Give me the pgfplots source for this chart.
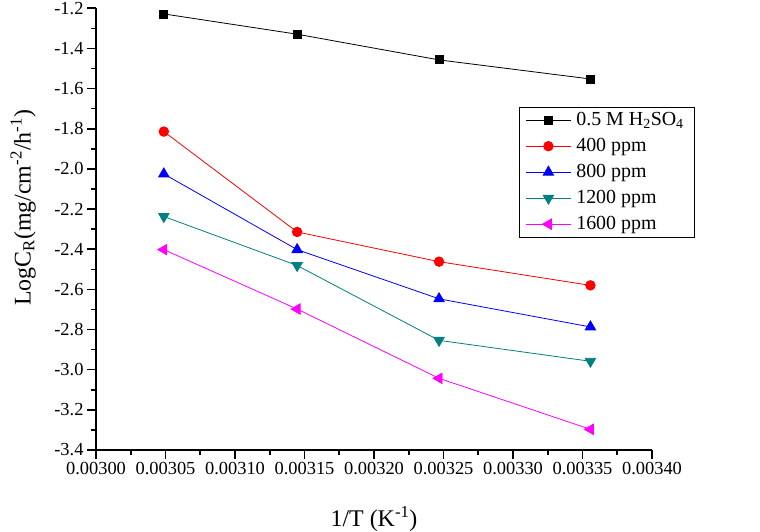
\documentclass[border=0pt]{standalone}
\usepackage{fontspec}
\setmainfont{Liberation Serif}
\usepackage{pgfplots}
\pgfplotsset{compat=1.18}
\definecolor{cteal}{RGB}{0,128,128}
\definecolor{cred}{RGB}{255,0,0}
\definecolor{cblue}{RGB}{0,0,255}
\definecolor{cmag}{RGB}{255,0,255}
\begin{document}
\begin{tikzpicture}
\path[use as bounding box] (-96bp,-82bp) rectangle (664bp,450bp);
\begin{axis}[
  at={(0,0)}, anchor=south west,
  scale only axis, width=556bp, height=441.7bp,
  axis x line*=bottom, axis y line*=left,
  axis line style={-, line width=1.6bp},
  xmin=0.003, xmax=0.0034, ymin=-3.4, ymax=-1.2,
  xtick={0.0030,0.00305,...,0.00341},
  ytick={-3.4,-3.2,...,-1.19},
  minor tick num=1,
  tick align=outside,
  major tick length=9bp, minor tick length=5bp,
  every tick/.style={line width=1.6bp, black},
  scaled x ticks=false,
  xticklabel style={/pgf/number format/.cd, fixed, fixed zerofill, precision=5, assume math mode=true},
  yticklabel style={/pgf/number format/.cd, fixed, fixed zerofill, precision=1, assume math mode=true},
  tick label style={font=\fontsize{18.5}{20}\selectfont},
  xlabel={1/T (K\textsuperscript{-1})},
  ylabel={LogC\textsubscript{R}(mg/cm\textsuperscript{-2}/h\textsuperscript{-1})},
  xlabel style={font=\fontsize{24}{26}\selectfont, at={(axis description cs:0.5,-0.156)}, anchor=center},
  ylabel style={font=\fontsize{24}{26}\selectfont, at={(axis description cs:-0.131,0.548)}, anchor=center},
  clip=false,
  legend cell align=left,
  legend style={at={(rel axis cs:0.761,0.777)}, anchor=north west, draw=black, line width=0.8bp,
    font=\fontsize{20}{24}\selectfont, inner xsep=6bp, inner ysep=0bp, row sep=0bp,
    nodes={inner xsep=5bp, inner ysep=2bp, text height=16.5bp, text depth=5.5bp}},
  legend image code/.code={\draw[mark repeat=2,mark phase=2,#1] plot coordinates {(0bp,0bp) (22.5bp,0bp) (45bp,0bp)};},
  every axis plot/.append style={line width=0.8bp},
]
\addplot[black, mark=square*, mark size=4bp] coordinates {
(0.0030488,-1.228) (0.0031447,-1.329) (0.0032468,-1.457) (0.0033557,-1.552)};
\addlegendentry{0.5 M H\textsubscript{2}SO\textsubscript{4}\hspace{12bp}}
\addplot[cred, mark=*, mark size=4.8bp] coordinates {
(0.0030488,-1.814) (0.0031447,-2.314) (0.0032468,-2.462) (0.0033557,-2.580)};
\addlegendentry{400 ppm}
\addplot[cblue, mark=triangle*, mark size=6bp] coordinates {
(0.0030488,-2.025) (0.0031447,-2.402) (0.0032468,-2.647) (0.0033557,-2.787)};
\addlegendentry{800 ppm}
\addplot[cteal, mark=triangle*, mark size=6bp, mark options={rotate=180}] coordinates {
(0.0030488,-2.237) (0.0031447,-2.481) (0.0032468,-2.854) (0.0033557,-2.958)};
\addlegendentry{1200 ppm}
\addplot[cmag, mark=triangle*, mark size=6bp, mark options={rotate=90}] coordinates {
(0.0030488,-2.402) (0.0031447,-2.698) (0.0032468,-3.043) (0.0033557,-3.297)};
\addlegendentry{1600 ppm}
\end{axis}
\end{tikzpicture}
\end{document}
